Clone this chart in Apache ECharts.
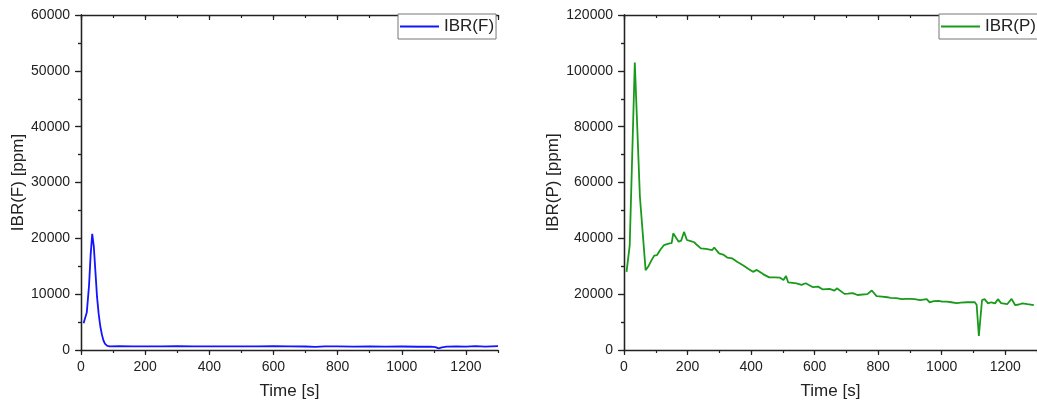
<!DOCTYPE html>
<html>
<head>
<meta charset="utf-8">
<script src="https://cdn.jsdelivr.net/npm/echarts@6/dist/echarts.min.js"></script>
<style>
  html, body { margin: 0; padding: 0; background: #fff; }
  #chart { width: 1037px; height: 408px; }
</style>
</head>
<body>
<div id="chart"></div>
<script>
// 左图 IBR(F)
const timeF = [8, 18, 25, 30, 35, 40, 45, 50, 55, 60, 65, 70, 75, 82, 90,
  120, 160, 200, 250, 300, 350, 400, 450, 500, 550, 600, 650, 700, 730, 760,
  800, 850, 900, 950, 1000, 1050, 1090, 1105, 1115, 1125, 1140, 1170, 1200, 1230, 1260, 1300];
const ibrF = [4800, 6700, 11500, 17000, 20800, 18500, 14000, 9500, 6500, 4300, 2800, 1700, 1100, 750, 650,
  680, 650, 660, 640, 670, 650, 660, 640, 660, 650, 670, 640, 630, 560, 640,
  650, 620, 640, 600, 630, 580, 620, 500, 300, 450, 600, 640, 620, 680, 620, 700];

// 右图 IBR(P)
const timeP = [8, 18, 34, 50, 68, 76, 86, 95, 104, 115, 126, 143, 150, 155, 165, 172, 180, 189, 198,
  210, 221, 230, 242, 258, 278, 284, 299, 312, 325, 341, 356, 377, 392, 406, 418, 439, 457, 475,
  491, 502, 510, 517, 543, 559, 572, 595, 611, 626, 647, 663, 670, 694, 705, 720, 735, 766, 780,
  795, 812, 829, 839, 857, 875, 888, 901, 915, 932, 953, 962, 975, 990, 1002, 1016, 1030, 1047,
  1060, 1080, 1104, 1110, 1117, 1127, 1135, 1146, 1156, 1168, 1177, 1187, 1206, 1220, 1231, 1243,
  1254, 1270, 1290];
const ibrP = [28000, 37500, 103000, 55000, 28600, 29800, 32000, 33800, 34000, 36000, 37600, 38200, 38300, 41800, 40000, 38800, 39200, 42300, 39400,
  39000, 38600, 37600, 36400, 36200, 35800, 36700, 34600, 34200, 33100, 32800, 31600, 30200, 29000, 28000, 28700, 27100, 26000, 26000,
  25900, 25100, 26500, 24200, 23900, 23300, 23900, 22500, 22700, 21700, 21900, 21300, 22100, 20100, 20200, 20400, 19700, 20000, 21300,
  19300, 19100, 18900, 18700, 18600, 18200, 18300, 18300, 18200, 17900, 18200, 17100, 17500, 17600, 17300, 17300, 17100, 16800,
  17000, 17100, 17100, 16200, 5000, 17900, 18200, 16700, 17100, 16700, 18200, 16800, 16400, 18300, 16100, 16300,
  16700, 16400, 16100];

const FONT = 'Liberation Sans, Arial, sans-serif';
const AXIS_COLOR = '#222';

function zip(xs, ys) {
    return xs.map((x, i) => [x, ys[i]]);
}

function plain(value) {
    return String(value);
}

// 每个网格：底部主刻度、底部次刻度、顶部主刻度、顶部次刻度
function xAxesFor(gridIndex) {
    const base = {
        gridIndex: gridIndex,
        type: 'value',
        min: 0,
        max: 1300,
        splitLine: { show: false },
        axisLine: { lineStyle: { color: AXIS_COLOR, width: 1.3 } }
    };
    return [
        Object.assign({}, base, {
            position: 'bottom',
            interval: 200,
            axisTick: { length: 5, lineStyle: { color: AXIS_COLOR, width: 1.2 } },
            axisLabel: { color: AXIS_COLOR, fontSize: 14, fontFamily: FONT, margin: 10, showMaxLabel: false, formatter: plain },
            name: 'Time [s]',
            nameLocation: 'middle',
            nameGap: 33,
            nameTextStyle: { color: AXIS_COLOR, fontSize: 17, fontFamily: FONT }
        }),
        Object.assign({}, base, {
            position: 'bottom',
            interval: 100,
            axisLine: { show: false },
            axisTick: { length: 3, lineStyle: { color: AXIS_COLOR, width: 1.2 } },
            axisLabel: { show: false }
        }),
        Object.assign({}, base, {
            position: 'top',
            interval: 200,
            axisTick: { inside: true, length: 5, lineStyle: { color: AXIS_COLOR, width: 1.2 } },
            axisLabel: { show: false }
        }),
        Object.assign({}, base, {
            position: 'top',
            interval: 100,
            axisLine: { show: false },
            axisTick: { inside: true, length: 3, lineStyle: { color: AXIS_COLOR, width: 1.2 } },
            axisLabel: { show: false }
        })
    ];
}

function yAxesFor(gridIndex, max, step, name, nameGap) {
    const base = {
        gridIndex: gridIndex,
        type: 'value',
        min: 0,
        max: max,
        interval: step,
        splitLine: { show: false },
        axisLine: { show: true, lineStyle: { color: AXIS_COLOR, width: 1.3 } },
        minorTick: { show: true, splitNumber: 2, length: 3, lineStyle: { color: AXIS_COLOR, width: 1.2 } }
    };
    return [
        Object.assign({}, base, {
            position: 'left',
            axisTick: { length: 5, lineStyle: { color: AXIS_COLOR, width: 1.2 } },
            axisLabel: { color: AXIS_COLOR, fontSize: 14, fontFamily: FONT, margin: 11, formatter: plain },
            name: name,
            nameLocation: 'middle',
            nameGap: nameGap,
            nameTextStyle: { color: AXIS_COLOR, fontSize: 17, fontFamily: FONT }
        }),
        Object.assign({}, base, {
            position: 'right',
            axisTick: { inside: true, length: 6, lineStyle: { color: AXIS_COLOR, width: 1.2 } },
            axisLabel: { show: false }
        })
    ];
}

function legendAt(left, name) {
    return {
        data: [name],
        left: left,
        top: 14,
        orient: 'horizontal',
        padding: [4, 2, 4, 2],
        icon: 'rect',
        itemWidth: 39,
        itemHeight: 2,
        backgroundColor: '#fff',
        borderColor: '#777',
        borderWidth: 1,
        borderRadius: 0,
        selectedMode: false,
        textStyle: { color: AXIS_COLOR, fontSize: 17, fontFamily: FONT, lineHeight: 17 }
    };
}

const chart = echarts.init(document.getElementById('chart'));
chart.setOption({
    animation: false,
    backgroundColor: '#fff',
    grid: [
        { left: 81, top: 15, width: 417, height: 335 },
        { left: 624, top: 15, width: 417, height: 335 }
    ],
    legend: [legendAt(398, 'IBR(F)'), legendAt(939, 'IBR(P)')],
    xAxis: xAxesFor(0).concat(xAxesFor(1)),
    yAxis: yAxesFor(0, 60000, 10000, 'IBR(F) [ppm]', 54)
        .concat(yAxesFor(1, 120000, 20000, 'IBR(P) [ppm]', 62)),
    series: [
        {
            name: 'IBR(F)',
            type: 'line',
            xAxisIndex: 0,
            yAxisIndex: 0,
            symbol: 'none',
            color: '#1414ff',
            lineStyle: { width: 1.8, color: '#1414ff' },
            data: zip(timeF, ibrF)
        },
        {
            name: 'IBR(P)',
            type: 'line',
            xAxisIndex: 4,
            yAxisIndex: 2,
            symbol: 'none',
            color: '#1a9a1a',
            lineStyle: { width: 1.8, color: '#1a9a1a' },
            data: zip(timeP, ibrP)
        }
    ]
});
</script>
</body>
</html>
